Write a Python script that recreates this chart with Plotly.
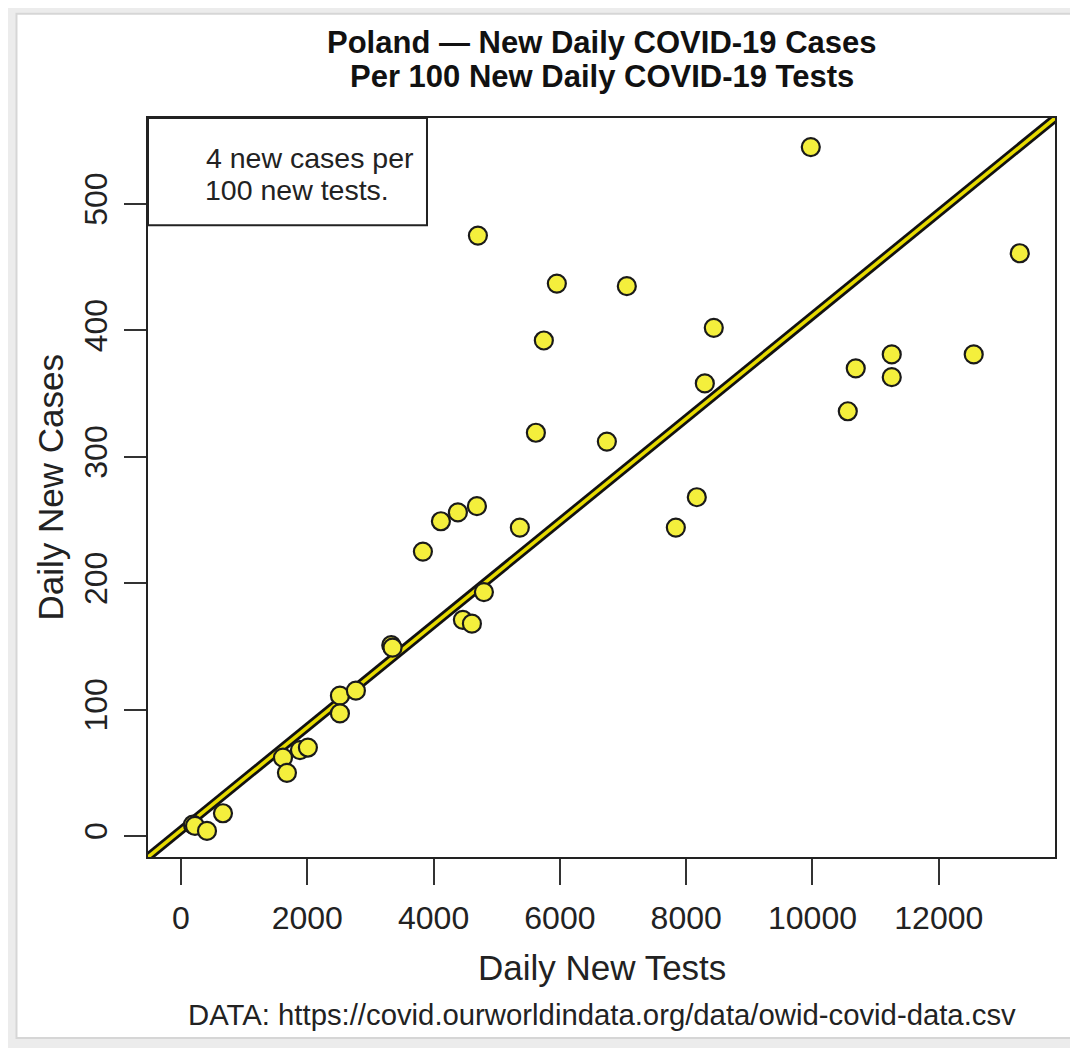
import plotly.graph_objects as go

# daily new tests vs daily new cases
tests = [190, 222, 412, 665, 1615, 1678, 1884, 2010, 2517, 2517, 2770, 3330, 3350,
         3831, 4116, 4385, 4686, 4464, 4607, 4797, 4702, 5366, 5620, 5746, 5952,
         6744, 7060, 7836, 8168, 8295, 8437, 9973, 10559, 10685, 11255, 11255,
         12553, 13282]
cases = [9, 8, 4, 18, 62, 50, 68, 70, 111, 97, 115, 151, 149,
         225, 249, 256, 261, 171, 168, 193, 475, 244, 319, 392, 437,
         312, 435, 244, 268, 358, 402, 545, 336, 370, 381, 363,
         381, 461]

# fitted line
intercept = 4.6
slope = 0.0407
line_x = [-1000, 15000]
line_y = [intercept + slope * v for v in line_x]

x_ticks = [0, 2000, 4000, 6000, 8000, 10000, 12000]
x_labels = ["0", "2000", "4000", "6000", "8000", "10000", "12000"]
y_ticks = [0, 100, 200, 300, 400, 500]
y_labels = ["0", "100", "200", "300", "400", "500"]

FONT = "Liberation Sans, Arial, sans-serif"

fig = go.Figure()

# zero reference lines
fig.add_hline(y=0, line_color="#bdbdbd", line_width=2, layer="below")
fig.add_vline(x=0, line_color="#bdbdbd", line_width=2, layer="below")

# fit line: black outline with yellow centre
fig.add_trace(go.Scatter(x=line_x, y=line_y, mode="lines",
                         line=dict(color="#111111", width=9),
                         hoverinfo="skip", showlegend=False))
fig.add_trace(go.Scatter(x=line_x, y=line_y, mode="lines",
                         line=dict(color="#E6DA00", width=3.5),
                         hoverinfo="skip", showlegend=False))

fig.add_trace(go.Scatter(
    x=tests, y=cases, mode="markers",
    marker=dict(size=18, color="#F4EF3C",
                line=dict(color="#1a1a1a", width=2.2)),
    showlegend=False))

# label box in top-left
fig.add_shape(type="rect", xref="paper", yref="paper",
              x0=0, x1=0.3076, y0=0.855, y1=1.0,
              fillcolor="white", line=dict(color="#222222", width=2),
              layer="above")
fig.add_annotation(xref="paper", yref="paper", x=0.0617, y=0.946,
                   xanchor="left", yanchor="middle", showarrow=False,
                   text="4 new cases per", font=dict(size=28.5, color="#222"))
fig.add_annotation(xref="paper", yref="paper", x=0.0606, y=0.9026,
                   xanchor="left", yanchor="middle", showarrow=False,
                   text="100 new tests.", font=dict(size=28.5, color="#222"))

# title lines
fig.add_annotation(xref="paper", yref="paper", x=0.5, y=1.1028,
                   xanchor="center", yanchor="middle", showarrow=False,
                   text="<b>Poland \u2014 New Daily COVID-19 Cases</b>",
                   font=dict(size=31, color="#111"))
fig.add_annotation(xref="paper", yref="paper", x=0.5, y=1.0568,
                   xanchor="center", yanchor="middle", showarrow=False,
                   text="<b>Per 100 New Daily COVID-19 Tests</b>",
                   font=dict(size=31, color="#111"))

# axis titles
fig.add_annotation(xref="paper", yref="paper", x=0.5, y=-0.150,
                   xanchor="center", yanchor="middle", showarrow=False,
                   text="Daily New Tests", font=dict(size=35, color="#222"))
fig.add_annotation(xref="paper", yref="paper", x=-0.108, y=0.5,
                   xanchor="center", yanchor="middle", showarrow=False,
                   textangle=-90,
                   text="Daily New Cases", font=dict(size=35, color="#222"))

# source
fig.add_annotation(xref="paper", yref="paper", x=0.5, y=-0.2138,
                   xanchor="center", yanchor="middle", showarrow=False,
                   text="DATA: https://covid.ourworldindata.org/data/owid-covid-data.csv",
                   font=dict(size=29.3, color="#222"))

# card background
fig.add_shape(type="rect", xref="paper", yref="paper",
              x0=-0.145, x1=1.03, y0=-0.245, y1=1.141,
              fillcolor="white", line=dict(color="#d6d6d6", width=2),
              layer="below")

fig.update_xaxes(range=[-522, 13840], tickvals=x_ticks, ticktext=x_labels,
                 showgrid=False, zeroline=False,
                 showline=True, mirror=True, linecolor="#222", linewidth=2,
                 ticks="outside", ticklen=26, tickwidth=2, tickcolor="#333",
                 ticklabelstandoff=6,
                 tickfont=dict(size=32, color="#222"))
fig.update_yaxes(range=[-16.6, 568], tickvals=y_ticks, ticktext=y_labels,
                 showgrid=False, zeroline=False,
                 showline=True, mirror=True, linecolor="#222", linewidth=2,
                 ticks="outside", ticklen=22, tickwidth=2, tickcolor="#333",
                 tickangle=-90, ticklabelstandoff=4,
                 tickfont=dict(size=32, color="#222"))

fig.update_layout(
    width=1070, height=1040,
    margin=dict(l=140, r=23, t=110, b=191),
    paper_bgcolor="#ececec", plot_bgcolor="white",
    font=dict(family=FONT),
    showlegend=False,
)

fig.write_html("out.html")
